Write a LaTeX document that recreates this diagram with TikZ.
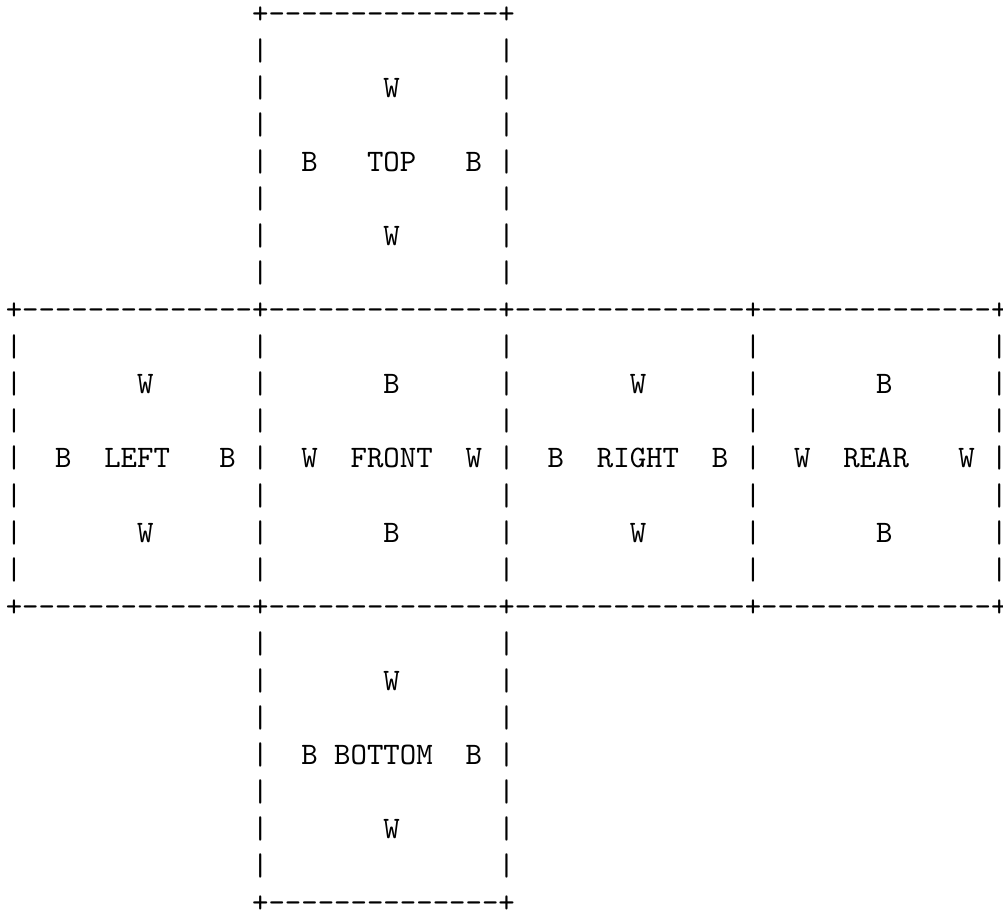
\documentclass[tikz,border=0pt]{standalone}
\newcommand\cubedsh{-\kern0pt}
\newcommand\cubeseg{\cubedsh\cubedsh\cubedsh\cubedsh\cubedsh\cubedsh\cubedsh\cubedsh\cubedsh\cubedsh\cubedsh\cubedsh\cubedsh\cubedsh+}
\begin{document}
\begin{tikzpicture}[x=5.25pt,y=-11.855pt,
  ch/.style={anchor=base west,inner sep=0pt,outer sep=0pt,font=\ttfamily\fontsize{10}{12}\selectfont}]
\useasboundingbox (0,0) rectangle (320.66pt,-292.85pt);
\begin{scope}[shift={(1.85pt,-7.35pt)}]
% border lines
\node[ch] (edgeTop) at (15,0) {+\cubeseg};
\node[ch] (edgeUpper) at (0,8) {+\cubeseg\cubeseg\cubeseg\cubeseg};
\node[ch] (edgeLower) at (0,16) {+\cubeseg\cubeseg\cubeseg\cubeseg};
\node[ch] (edgeBottom) at (15,24) {+\cubeseg};
\foreach \r in {1,...,7} {\foreach \c in {15,30} {\node[ch] (bar-\r-\c) at (\c,\r) {|};}}
\foreach \r in {9,...,15} {\foreach \c in {0,15,30,45,60} {\node[ch] (bar-\r-\c) at (\c,\r) {|};}}
\foreach \r in {17,...,23} {\foreach \c in {15,30} {\node[ch] (bar-\r-\c) at (\c,\r) {|};}}
% TOP face
\node[ch] (topN) at (23,2) {W};
\node[ch] (topW) at (18,4) {B};
\node[ch] (topName) at (22,4) {TOP};
\node[ch] (topE) at (28,4) {B};
\node[ch] (topS) at (23,6) {W};
% LEFT face
\node[ch] (leftN) at (8,10) {W};
\node[ch] (leftW) at (3,12) {B};
\node[ch] (leftName) at (6,12) {LEFT};
\node[ch] (leftE) at (13,12) {B};
\node[ch] (leftS) at (8,14) {W};
% FRONT face
\node[ch] (frontN) at (23,10) {B};
\node[ch] (frontW) at (18,12) {W};
\node[ch] (frontName) at (21,12) {FRONT};
\node[ch] (frontE) at (28,12) {W};
\node[ch] (frontS) at (23,14) {B};
% RIGHT face
\node[ch] (rightN) at (38,10) {W};
\node[ch] (rightW) at (33,12) {B};
\node[ch] (rightName) at (36,12) {RIGHT};
\node[ch] (rightE) at (43,12) {B};
\node[ch] (rightS) at (38,14) {W};
% REAR face
\node[ch] (rearN) at (53,10) {B};
\node[ch] (rearW) at (48,12) {W};
\node[ch] (rearName) at (51,12) {REAR};
\node[ch] (rearE) at (58,12) {W};
\node[ch] (rearS) at (53,14) {B};
% BOTTOM face
\node[ch] (botN) at (23,18) {W};
\node[ch] (botW) at (18,20) {B};
\node[ch] (botName) at (20,20) {BOTTOM};
\node[ch] (botE) at (28,20) {B};
\node[ch] (botS) at (23,22) {W};
\end{scope}
\end{tikzpicture}
\end{document}
